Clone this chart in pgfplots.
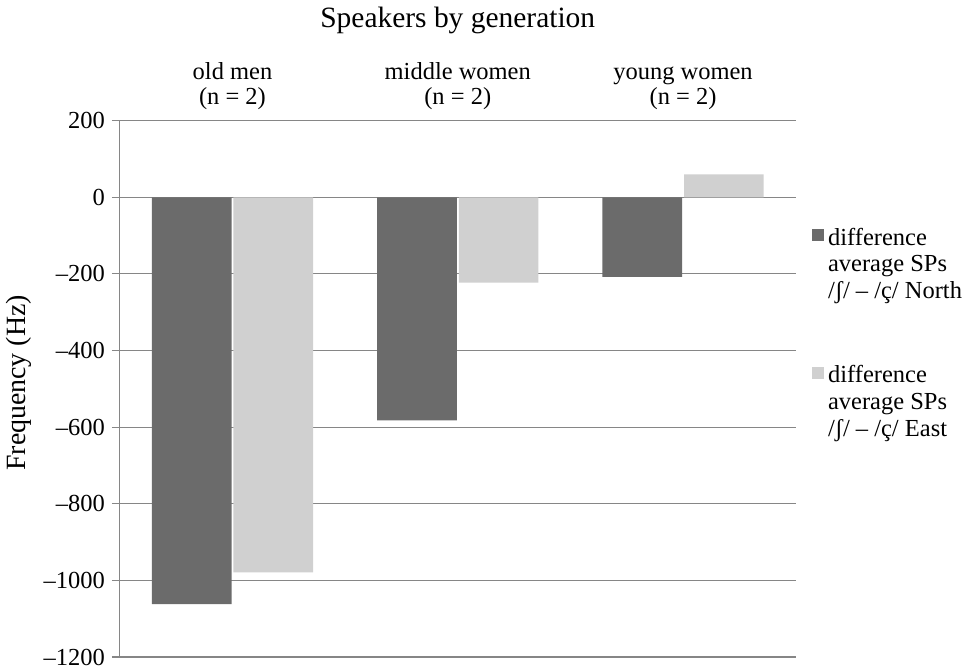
\documentclass[border=0pt]{standalone}
\usepackage{fontspec}
\setmainfont{Liberation Serif}
\usepackage{pgfplots}
\pgfplotsset{compat=1.18}
\definecolor{darkbar}{RGB}{107,107,107}
\definecolor{lightbar}{RGB}{208,208,208}
\definecolor{gridc}{RGB}{134,134,134}
\begin{document}
\begin{tikzpicture}
\begin{axis}[
    width=339.5pt, height=269.5pt, scale only axis,
    ybar=1pt, bar width=40pt,
    xmin=-0.5, xmax=2.5, ymin=-1200, ymax=200,
    xtick={0,1,2},
    xticklabels={{old men\\(n = 2)}, {middle women\\(n = 2)}, {young women\\(n = 2)}},
    xticklabel pos=upper,
    xticklabel style={align=center, font=\fontsize{12.3}{12.5}\selectfont, yshift=-2pt},
    x tick style={draw=none},
    ytick={-1200,-1000,...,200},
    yticklabels={–1200,–1000,–800,–600,–400,–200,0,200},
    yticklabel style={font=\fontsize{12.3}{14}\selectfont},
    tick align=outside, major tick length=4pt,
    y tick style={gridc, line width=0.6pt},
    axis x line*=top, axis y line*=left,
    axis line style={-, gridc, line width=0.6pt},
    ymajorgrids, grid style={gridc, line width=0.6pt},
    ylabel={Frequency (Hz)},
    ylabel style={font=\fontsize{14}{16}\selectfont, yshift=-1pt, xshift=3pt},
    title={Speakers by generation},
    title style={font=\fontsize{14.8}{16}\selectfont, at={(0.5,1)}, anchor=base, yshift=41pt},
    legend style={draw=none, at={(1.015,0.603)}, anchor=west,
        font=\fontsize{12.3}{13.5}\selectfont, row sep=28pt,
        cells={align=left}},
    legend cell align=left,
    legend image code/.code={\fill[#1] (0pt,12pt) rectangle (6pt,18pt);},
]
\addplot[fill=darkbar, draw=none] coordinates {(0,-1062) (1,-582) (2,-208)};
\addplot[fill=lightbar, draw=none] coordinates {(0,-979) (1,-223) (2,60)};
\legend{{difference\\average SPs\\/ʃ/ – /ç/ North}, {difference\\average SPs\\/ʃ/ – /ç/ East}}
\end{axis}
\end{tikzpicture}
\end{document}
